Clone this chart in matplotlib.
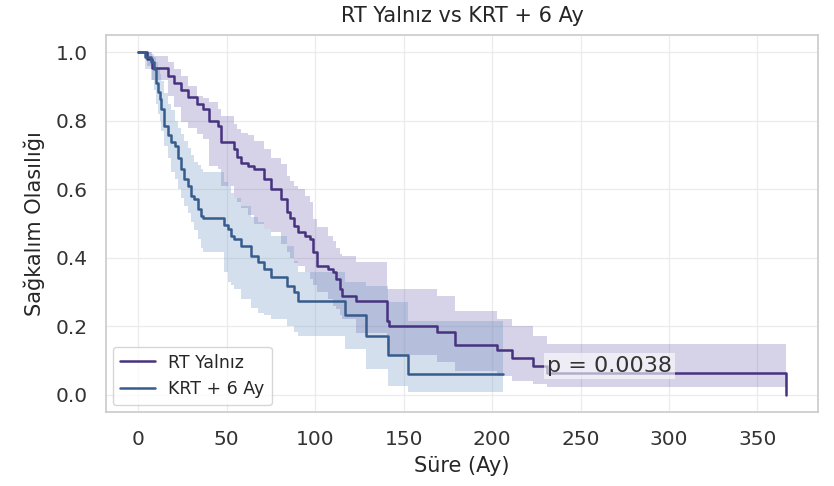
import matplotlib
matplotlib.use("Agg")
import matplotlib.pyplot as plt
import seaborn as sns
import numpy as np

# ---- data: RT Yalnız ----
rt_time = [0, 5, 8, 17, 20, 24, 28, 33, 36.5, 40, 45, 46.8, 54, 56, 58, 62, 65.5, 71, 75,
           80.6, 84, 86, 88, 90, 94, 97, 99, 101, 107, 110, 111.6, 114, 115, 123, 140.7,
           141.5, 169, 179, 203, 211, 223, 231, 366]
rt_surv = [1.0, 0.98, 0.955, 0.93, 0.91, 0.89, 0.87, 0.85, 0.834, 0.80, 0.785, 0.737, 0.717,
           0.694, 0.678, 0.668, 0.66, 0.63, 0.60, 0.571, 0.533, 0.515, 0.494, 0.475, 0.465,
           0.455, 0.416, 0.377, 0.367, 0.358, 0.338, 0.31, 0.29, 0.275, 0.217, 0.20, 0.183,
           0.146, 0.13, 0.108, 0.085, 0.064, 0.0]
rt_hi = [1.0, 1.0, 0.99, 0.97, 0.95, 0.93, 0.90, 0.873, 0.865, 0.855, 0.835, 0.815, 0.79,
         0.776, 0.765, 0.757, 0.74, 0.717, 0.69, 0.675, 0.64, 0.625, 0.61, 0.60, 0.58, 0.562,
         0.513, 0.49, 0.465, 0.45, 0.43, 0.41, 0.406, 0.387, 0.309, 0.309, 0.29, 0.246,
         0.222, 0.20, 0.173, 0.149, 0.149]
rt_lo = [1.0, 0.96, 0.92, 0.873, 0.84, 0.795, 0.78, 0.76, 0.746, 0.668, 0.66, 0.61, 0.575,
         0.562, 0.545, 0.525, 0.50, 0.484, 0.475, 0.44, 0.416, 0.40, 0.385, 0.377, 0.36,
         0.338, 0.32, 0.30, 0.28, 0.26, 0.25, 0.232, 0.222, 0.18, 0.13, 0.116, 0.096, 0.071,
         0.056, 0.042, 0.032, 0.023, 0.023]

# ---- data: KRT + 6 Ay ----
krt_time = [0, 3.6, 7.3, 9, 10, 11, 12, 13, 14.8, 16.7, 18.6, 20.5, 22.4, 24, 26, 28, 30,
            31.6, 33.6, 35.5, 36.5, 48.7, 50.5, 52.4, 54, 58, 63.7, 67.5, 71, 75, 84, 88, 90,
            117, 128.5, 141, 152.6, 206]
krt_surv = [1.0, 0.985, 0.97, 0.95, 0.91, 0.885, 0.863, 0.834, 0.785, 0.757, 0.737, 0.727,
            0.69, 0.66, 0.63, 0.61, 0.581, 0.571, 0.542, 0.523, 0.515, 0.495, 0.484, 0.465,
            0.455, 0.435, 0.406, 0.387, 0.367, 0.343, 0.319, 0.30, 0.275, 0.232, 0.173, 0.117,
            0.061, 0.061]
krt_hi = [1.0, 1.0, 0.995, 0.985, 0.97, 0.95, 0.935, 0.915, 0.88, 0.85, 0.83, 0.80, 0.78,
          0.76, 0.74, 0.72, 0.70, 0.68, 0.67, 0.66, 0.65, 0.62, 0.61, 0.59, 0.575, 0.55, 0.52,
          0.505, 0.485, 0.465, 0.435, 0.39, 0.36, 0.33, 0.319, 0.27, 0.217, 0.217]
krt_lo = [1.0, 0.95, 0.92, 0.89, 0.85, 0.82, 0.80, 0.77, 0.727, 0.69, 0.65, 0.63, 0.60,
          0.575, 0.552, 0.53, 0.504, 0.48, 0.455, 0.43, 0.416, 0.36, 0.33, 0.32, 0.31, 0.28,
          0.255, 0.24, 0.232, 0.222, 0.20, 0.185, 0.173, 0.134, 0.076, 0.027, 0.009, 0.009]

labels = ["RT Yalnız", "KRT + 6 Ay"]
p_text = "p = 0.0038"
title = "RT Yalnız vs KRT + 6 Ay"
xlabel = "Süre (Ay)"
ylabel = "Sağkalım Olasılığı"

sns.set_theme(style="whitegrid")
plt.rcParams['font.family'] = ['DejaVu Sans']

fig = plt.figure(figsize=(8.34, 4.86), dpi=100)
ax = fig.add_axes([0.127, 0.152, 0.854, 0.776])

colors = ["#46327e", "#365c8d"]
fills = ["#6a5aa8", "#5d8cbc"]
groups = [(rt_time, rt_surv, rt_lo, rt_hi), (krt_time, krt_surv, krt_lo, krt_hi)]
for (t, s, lo, hi), c, fc, lab in zip(groups, colors, fills, labels):
    ax.fill_between(t, lo, hi, step="post", color=fc, alpha=0.27, linewidth=0)
    ax.step(t, s, where="post", color=c, linewidth=1.8, label=lab)

ax.text(231, 0.085, p_text, fontsize=16, va="center", ha="left", color="#333333",
        bbox=dict(facecolor="white", alpha=0.6, edgecolor="none", pad=2))

ax.set_title(title, fontsize=15, color="#262626", pad=9)
ax.set_xlabel(xlabel, fontsize=15, color="#262626", labelpad=5)
ax.set_ylabel(ylabel, fontsize=15, color="#262626", labelpad=8)
ax.tick_params(labelsize=14.5, colors="#333333", pad=7)
ax.set_xticks([0, 50, 100, 150, 200, 250, 300, 350])
ax.set_yticks([0.0, 0.2, 0.4, 0.6, 0.8, 1.0])
ax.grid(color="#ebebeb", linewidth=0.9)
for sp in ax.spines.values():
    sp.set_color("#cccccc")

ax.legend(loc="lower left", fontsize=12.5, frameon=True, borderaxespad=0.4)

fig.savefig("out.png", dpi=100)
